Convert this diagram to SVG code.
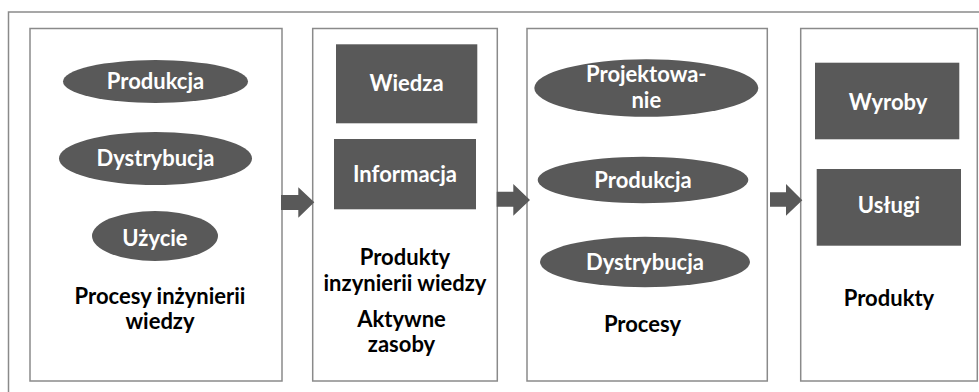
<svg xmlns="http://www.w3.org/2000/svg" width="979" height="392" viewBox="0 0 979 392">
  <style>
    .frame { fill: none; stroke: #8a8a8a; stroke-width: 1.5; }
    .panel { fill: #ffffff; stroke: #8a8a8a; stroke-width: 1.5; }
    .shape { fill: #595959; }
    .arrow { fill: #595959; }
    .in { font-family: Lato, "Open Sans", sans-serif; font-weight: bold; font-size: 22px; fill: #ffffff; text-anchor: middle; }
    .cap { font-family: Lato, "Open Sans", sans-serif; font-weight: bold; font-size: 22px; fill: #000000; text-anchor: middle; }
  </style>
  <rect width="979" height="392" fill="#ffffff"/>
  <!-- outer frame, open to the right and bottom -->
  <rect class="frame" x="8.5" y="12" width="1000" height="400"/>

  <g id="procesy-inzynierii">
    <rect class="panel" x="30" y="28.5" width="252" height="352.5"/>
    <g id="produkcja-1">
      <ellipse class="shape" cx="155.5" cy="81.5" rx="92.5" ry="21.5"/>
      <text class="in" x="155.5" y="89">Produkcja</text>
    </g>
    <g id="dystrybucja-1">
      <ellipse class="shape" cx="155.5" cy="158.5" rx="96.5" ry="26.5"/>
      <text class="in" x="155.5" y="166">Dystrybucja</text>
    </g>
    <g id="uzycie">
      <ellipse class="shape" cx="155" cy="236" rx="63" ry="25"/>
      <text class="in" x="155" y="246">Użycie</text>
    </g>
    <text class="cap" x="160" y="304">Procesy inżynierii</text>
    <text class="cap" x="160" y="329">wiedzy</text>
  </g>

  <g id="produkty-inzynierii">
    <rect class="panel" x="312.7" y="28.5" width="184.6" height="352.5"/>
    <g id="wiedza">
      <rect class="shape" x="336" y="44.3" width="141.3" height="79"/>
      <text class="in" x="406.5" y="91">Wiedza</text>
    </g>
    <g id="informacja">
      <rect class="shape" x="334" y="139" width="142" height="70.3"/>
      <text class="in" x="405" y="182">Informacja</text>
    </g>
    <text class="cap" x="405" y="265">Produkty</text>
    <text class="cap" x="405" y="291">inzynierii wiedzy</text>
    <text class="cap" x="401.5" y="327">Aktywne</text>
    <text class="cap" x="401.5" y="352">zasoby</text>
  </g>

  <g id="procesy">
    <rect class="panel" x="527" y="28.5" width="240.3" height="352.5"/>
    <g id="projektowanie">
      <ellipse class="shape" cx="646.3" cy="88" rx="112" ry="28.7"/>
      <text class="in" x="646.3" y="82">Projektowa-</text>
      <text class="in" x="646.3" y="108">nie</text>
    </g>
    <g id="produkcja-2">
      <ellipse class="shape" cx="643" cy="180" rx="105.3" ry="23.3"/>
      <text class="in" x="643" y="187.5">Produkcja</text>
    </g>
    <g id="dystrybucja-2">
      <ellipse class="shape" cx="645" cy="262" rx="105" ry="25.3"/>
      <text class="in" x="645" y="269.5">Dystrybucja</text>
    </g>
    <text class="cap" x="642.5" y="332">Procesy</text>
  </g>

  <g id="produkty">
    <rect class="panel" x="800.7" y="28.5" width="176.6" height="352.5"/>
    <g id="wyroby">
      <rect class="shape" x="815" y="62.7" width="144.3" height="76.6"/>
      <text class="in" x="888" y="110">Wyroby</text>
    </g>
    <g id="uslugi">
      <rect class="shape" x="816.7" y="169" width="144.3" height="76.7"/>
      <text class="in" x="889" y="213">Usługi</text>
    </g>
    <text class="cap" x="889" y="306">Produkty</text>
  </g>

  <g id="connectors">
    <polygon class="arrow" points="281,195 298.3,195 298.3,187.3 314.3,202.3 298.3,217.7 298.3,210 281,210"/>
    <polygon class="arrow" points="496.7,191.7 513.3,191.7 513.3,184 530,200 513.3,215.7 513.3,206.7 496.7,206.7"/>
    <polygon class="arrow" points="770,192.3 786,192.3 786,184 802.3,200.3 786,215.7 786,206.7 770,206.7"/>
  </g>
</svg>
